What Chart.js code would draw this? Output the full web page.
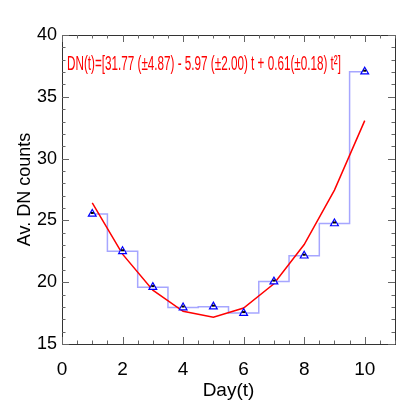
<!DOCTYPE html>
<html>
<head>
<meta charset="utf-8">
<script src="https://cdn.jsdelivr.net/npm/chart.js@4"></script>
<style>
  html, body { margin: 0; padding: 0; background: #fff; }
  #wrap { width: 414px; height: 414px; }
</style>
</head>
<body>
<div id="wrap"><canvas id="dnChart" width="414" height="414"></canvas></div>
<script>
// values
const days = [1, 2, 3, 4, 5, 6, 7, 8, 9, 10];
const avCounts = [25.52, 22.50, 19.60, 17.95, 18.02, 17.50, 20.05, 22.14, 24.75, 37.03];
// red fitted curve as drawn
const fitCounts = [26.41, 22.27, 19.35, 17.65, 17.17, 17.91, 19.87, 23.05, 27.45, 33.07];
const xTicks = [0, 2, 4, 6, 8, 10];
const yTicks = [15, 20, 25, 30, 35, 40];
const fitLabel = 'DN(t)=[31.77 (\u00b14.87) - 5.97 (\u00b12.00) t + 0.61(\u00b10.18) t\u00b2]';

const narrow = '"Liberation Sans Narrow", "Liberation Sans", sans-serif';

const toXY = (ys) => days.map((d, i) => ({ x: d, y: ys[i] }));

// box round the plot with inward ticks on all four sides, plus the fit label
const frameTicks = {
  id: 'frameTicks',
  afterDatasetsDraw(chart) {
    const { ctx } = chart;
    const meta = chart.getDatasetMeta(2);
    ctx.save();
    ctx.fillStyle = '#000';
    meta.data.forEach(pt => ctx.fillRect(pt.x - 1.5, pt.y - 2, 3, 2));
    ctx.restore();
  },
  afterDraw(chart) {
    const { ctx, chartArea: a, scales: { x, y } } = chart;
    ctx.save();
    ctx.strokeStyle = '#333';
    ctx.lineWidth = 1;
    ctx.strokeRect(Math.round(a.left) + 0.5, Math.round(a.top) + 0.5,
      Math.round(a.right - a.left), Math.round(a.bottom - a.top));
    ctx.strokeStyle = '#666';
    ctx.beginPath();
    for (let v = x.min; v <= x.max + 1e-6; v += 0.5) {
      const px = Math.round(x.getPixelForValue(v)) + 0.5;
      const len = xTicks.includes(v) ? 7 : 3.5;
      ctx.moveTo(px, a.bottom); ctx.lineTo(px, a.bottom - len);
      ctx.moveTo(px, a.top); ctx.lineTo(px, a.top + len);
    }
    for (let v = y.min; v <= y.max + 1e-6; v += 1) {
      const py = Math.round(y.getPixelForValue(v)) + 0.5;
      const len = yTicks.includes(v) ? 7 : 3.5;
      ctx.moveTo(a.left, py); ctx.lineTo(a.left + len, py);
      ctx.moveTo(a.right, py); ctx.lineTo(a.right - len, py);
    }
    ctx.stroke();

    ctx.fillStyle = '#ff0000';
    ctx.font = '20px ' + narrow;
    ctx.textBaseline = 'alphabetic';
    ctx.fillText(fitLabel, a.left + 5, a.top + 35, 274);
    ctx.restore();
  }
};

new Chart(document.getElementById('dnChart'), {
  type: 'line',
  data: {
    datasets: [{
      label: 'steps',
      data: toXY(avCounts),
      stepped: 'middle',
      borderColor: 'rgba(150,150,255,0.85)',
      borderWidth: 1.5,
      pointRadius: 0,
      order: 3
    }, {
      label: 'fit',
      data: toXY(fitCounts),
      borderColor: '#ff0000',
      borderWidth: 1.5,
      pointRadius: 0,
      tension: 0,
      order: 2
    }, {
      label: 'data',
      data: toXY(avCounts),
      showLine: false,
      pointStyle: 'triangle',
      pointRadius: 4.5,
      pointBorderWidth: 1.2,
      pointBorderColor: '#0000ff',
      pointBackgroundColor: '#ffffff',
      order: 1
    }]
  },
  options: {
    responsive: false,
    animation: false,
    events: [],
    layout: { padding: { top: 35, right: 19, left: 0, bottom: 0 } },
    plugins: { legend: { display: false }, tooltip: { enabled: false } },
    scales: {
      x: {
        type: 'linear',
        min: 0, max: 11,
        grid: { display: false, drawTicks: false },
        border: { display: false },
        ticks: {
          stepSize: 2, includeBounds: false,
          padding: 14, color: '#000',
          maxRotation: 0,
          font: { family: narrow, size: 19 }
        },
        title: {
          display: true, text: 'Day(t)', color: '#000',
          padding: { top: 0, bottom: 12 },
          font: { family: narrow, size: 19 }
        },
        afterFit(scale) { scale.height = 70; }
      },
      y: {
        min: 15, max: 40,
        grid: { display: false, drawTicks: false },
        border: { display: false },
        ticks: {
          stepSize: 5, padding: 5, color: '#000',
          font: { family: narrow, size: 18 }
        },
        title: {
          display: true, text: 'Av. DN counts', color: '#000',
          padding: { top: 14, bottom: 0 },
          font: { family: '"Liberation Sans", Arial, sans-serif', size: 18 }
        },
        afterFit(scale) { scale.width = 62; }
      }
    }
  },
  plugins: [frameTicks]
});
</script>
</body>
</html>
